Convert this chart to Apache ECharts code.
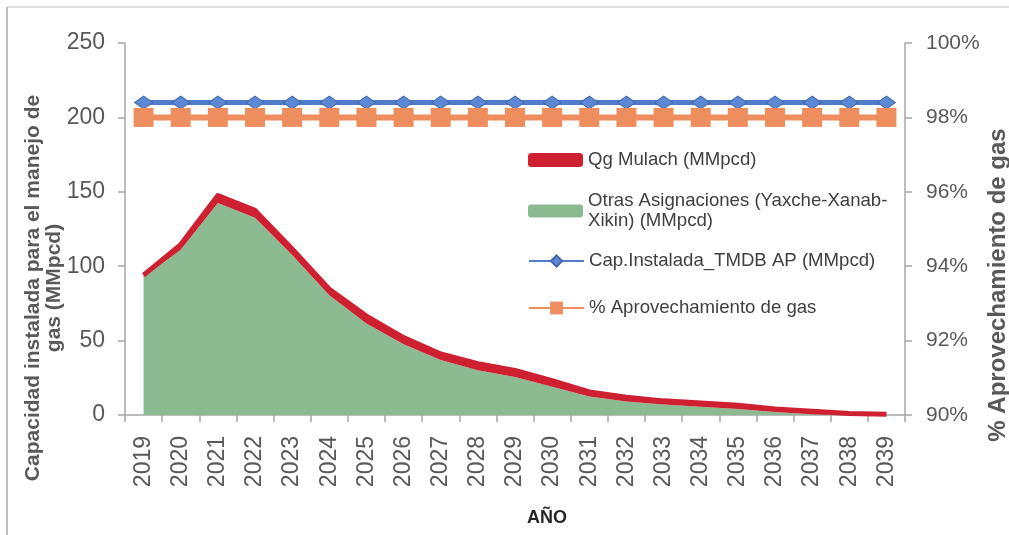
<!DOCTYPE html>
<html>
<head>
<meta charset="utf-8">
<style>
  html, body { margin: 0; padding: 0; background: #ffffff; }
  #chart { width: 1009px; height: 535px; }
</style>
<script src="https://cdn.jsdelivr.net/npm/echarts@6/dist/echarts.min.js"></script>
</head>
<body>
<div id="chart"></div>
<script>
// Years on the horizontal axis
const years = ['2019','2020','2021','2022','2023','2024','2025','2026','2027','2028','2029',
               '2030','2031','2032','2033','2034','2035','2036','2037','2038','2039'];

// Gas from other allocations (MMpcd), bottom of the stack
const otras = [92.5, 111, 142.5, 132.5, 107.5, 80.5, 61.5, 47.5, 37, 30, 25.5,
               19, 12.5, 9, 7, 5.5, 4, 2, 0.5, 0, 0];

// Mulach gas (MMpcd), stacked on top
const mulach = [1.5, 3.5, 5, 5, 4, 4, 5, 4.5, 4, 4.5, 4.5,
                4, 3, 3, 2.5, 2.5, 2.5, 2, 2, 1, 0.5];

// Installed handling capacity (MMpcd)
const capInstalada = [210, 210, 210, 210, 210, 210, 210, 210, 210, 210, 210,
                      210, 210, 210, 210, 210, 210, 210, 210, 210, 210];

// Gas utilisation share (right axis)
const aprovechamiento = [0.98, 0.98, 0.98, 0.98, 0.98, 0.98, 0.98, 0.98, 0.98, 0.98, 0.98,
                         0.98, 0.98, 0.98, 0.98, 0.98, 0.98, 0.98, 0.98, 0.98, 0.98];

// Axis tick settings
const leftTicks = { min: 0, max: 250, interval: 50 };
const rightTicks = { min: 0.90, max: 1.00, interval: 0.02 };

const names = {
  mulach: 'Qg Mulach (MMpcd)',
  otras: 'Otras Asignaciones (Yaxche-Xanab-\nXikin) (MMpcd)',
  cap: 'Cap.Instalada_TMDB AP (MMpcd)',
  aprov: '% Aprovechamiento de gas'
};

const FONT = "'Liberation Sans', Arial, sans-serif";
const AXIS_GRAY = '#a6a6a6';
const LABEL_GRAY = '#595959';
const RED = '#ce2030';
const GREEN = '#8cba91';
const BLUE = '#4f7dc9';
const ORANGE = '#ee8d5e';

const legendText = { fontFamily: FONT, fontSize: 18.6, color: '#404040', lineHeight: 20 };

function oneLegend(name, top, h, extra) {
  return Object.assign({
    left: 528, top: top, padding: 0, orient: 'vertical',
    itemWidth: 55, itemHeight: h, selectedMode: false,
    data: [name], textStyle: legendText
  }, extra || {});
}

const chart = echarts.init(document.getElementById('chart'), null, { renderer: 'canvas' });

chart.setOption({
  animation: false,
  backgroundColor: '#ffffff',
  grid: { left: 125, right: 104, top: 43, bottom: 120, containLabel: false, outerBoundsMode: 'none' },
  legend: [
    oneLegend({ name: names.mulach, icon: 'roundRect' }, 150, 14),
    oneLegend({ name: names.otras, icon: 'roundRect' }, 181, 13,
      { textStyle: Object.assign({}, legendText, { padding: [20, 0, 0, 0] }) }),
    oneLegend(names.cap, 251, 14),
    oneLegend(names.aprov, 298, 16)
  ],
  xAxis: {
    type: 'category',
    data: years,
    boundaryGap: true,
    name: 'AÑO',
    nameLocation: 'middle',
    nameGap: 94,
    nameMoveOverlap: false,
    nameTextStyle: { fontFamily: FONT, fontSize: 18, fontWeight: 'bold', color: '#262626', padding: [0, 0, 0, 64] },
    axisLine: { lineStyle: { color: AXIS_GRAY, width: 1.5 } },
    axisTick: { show: true, length: 7, lineStyle: { color: AXIS_GRAY, width: 1.5 } },
    axisLabel: { rotate: 90, margin: 21, fontFamily: FONT, fontSize: 23, color: LABEL_GRAY, interval: 0 },
    splitLine: { show: false }
  },
  yAxis: [
    {
      type: 'value',
      position: 'left',
      min: leftTicks.min, max: leftTicks.max, interval: leftTicks.interval,
      name: 'Capacidad instalada para el manejo de\ngas (MMpcd)',
      nameLocation: 'middle',
      nameGap: 60,
      nameMoveOverlap: false,
      nameTextStyle: { fontFamily: FONT, fontSize: 21, fontWeight: 'bold', color: '#595959', lineHeight: 21, padding: [0, 118, 0, 0] },
      axisLine: { show: true, lineStyle: { color: AXIS_GRAY, width: 1.5 } },
      axisTick: { show: true, length: 7, lineStyle: { color: AXIS_GRAY, width: 1.5 } },
      axisLabel: { margin: 20, fontFamily: FONT, fontSize: 23, color: LABEL_GRAY },
      splitLine: { show: false }
    },
    {
      type: 'value',
      position: 'right',
      min: rightTicks.min, max: rightTicks.max, interval: rightTicks.interval,
      name: '% Aprovechamiento de gas',
      nameLocation: 'middle',
      nameGap: 81,
      nameMoveOverlap: false,
      nameTextStyle: { fontFamily: FONT, fontSize: 24, fontWeight: 'bold', color: '#595959', padding: [0, 112, 0, 0] },
      axisLine: { show: true, lineStyle: { color: AXIS_GRAY, width: 1.5 } },
      axisTick: { show: true, length: 7, lineStyle: { color: AXIS_GRAY, width: 1.5 } },
      axisLabel: {
        margin: 21, fontFamily: FONT, fontSize: 21, color: LABEL_GRAY,
        formatter: v => Math.round(v * 100) + '%'
      },
      splitLine: { show: false }
    }
  ],
  series: [
    {
      name: names.otras,
      type: 'line',
      stack: 'gas',
      data: otras,
      symbol: 'none',
      lineStyle: { width: 0, color: GREEN },
      itemStyle: { color: GREEN },
      areaStyle: { color: GREEN, opacity: 1 },
      z: 2
    },
    {
      name: names.mulach,
      type: 'line',
      stack: 'gas',
      data: mulach,
      symbol: 'none',
      lineStyle: { width: 5, color: RED, join: 'round' },
      itemStyle: { color: RED },
      areaStyle: { color: RED, opacity: 1 },
      z: 3
    },
    {
      name: names.cap,
      type: 'line',
      data: capInstalada,
      symbol: 'diamond',
      symbolSize: [18, 13],
      lineStyle: { width: 5, color: BLUE },
      itemStyle: { color: '#5b87d3', borderColor: '#3f66ad', borderWidth: 1 },
      z: 4
    },
    {
      name: names.aprov,
      type: 'line',
      yAxisIndex: 1,
      data: aprovechamiento,
      symbol: 'rect',
      symbolSize: [20, 19],
      lineStyle: { width: 6, color: ORANGE },
      itemStyle: { color: ORANGE },
      z: 5
    }
  ],
  graphic: [
    { type: 'line', shape: { x1: 7, y1: 7, x2: 1009, y2: 7 }, style: { stroke: '#d2d2d2', lineWidth: 1.5 }, silent: true },
    { type: 'line', shape: { x1: 7, y1: 7, x2: 7, y2: 535 }, style: { stroke: '#bdbdbd', lineWidth: 2 }, silent: true }
  ]
});
</script>
</body>
</html>
